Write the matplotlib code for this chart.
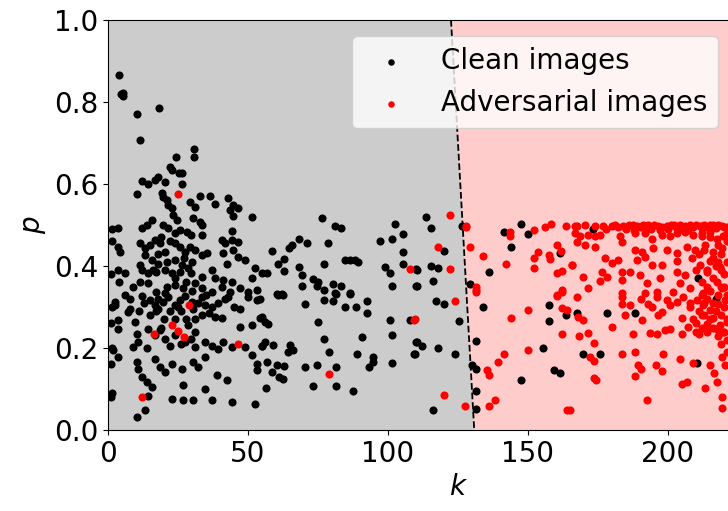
import numpy as np
import matplotlib.pyplot as plt

# (k, p) values
clean_pts = [
    (4.0, .867), (4.5, .82), (5.5, .815), (5.3, .823), (10.2, .771), (18.2, .785), (11.5, .707),
    (30.8, .685), (24.2, .667), (30.8, .667),
    (22.1, .641), (22.7, .634), (25.4, .626), (26.5, .626), (18, .618), (16.8, .61), (12.3, .607),
    (14.2, .60), (20.4, .604), (26.5, .60), (10.2, .575), (19.2, .577), (19.8, .569), (21, .561),
    (21.5, .549), (22.7, .541), (32.9, .571), (36.4, .571), (29.3, .555), (31.1, .545), (38.2, .552),
    (43, .565), (44.8, .549), (46.5, .541), (43.6, .537), (44.8, .521), (51.3, .52), (23.3, .524),
    (24.5, .512), (30.5, .516), (32.9, .508), (33.5, .5), (15.6, .512), (13.8, .5), (12.0, .492),
    (3.5, .493), (19.8, .5), (21.5, .492), (23.9, .48), (25.7, .488), (28.1, .484), (29.8, .476),
    (33.5, .476), (44.2, .485), (44.2, .463), (40.6, .463), (41.8, .455), (46.5, .459), (3.7, .447),
    (4.3, .435), (11.4, .455), (13.2, .443), (15, .451), (16.8, .463), (18.6, .455), (20.4, .435),
    (23.9, .455), (25.7, .447), (27.5, .435), (29.3, .447), (31.1, .439), (33.5, .427), (35.2, .431),
    (13.2, .427), (15.6, .415), (17.9, .406), (20.9, .41), (23.9, .415), (26.3, .402), (28.7, .394),
    (41.2, .431), (44.8, .439), (46.5, .423), (48.9, .415), (42.4, .406), (52.5, .394), (3.5, .39),
    (6.1, .382), (4.0, .362), (11.4, .402), (12.0, .39), (14.4, .382), (17.3, .386), (20.4, .39),
    (22.7, .382), (25.7, .386), (29.8, .382), (33.5, .374), (37, .39), (38.2, .37), (41.2, .366),
    (44.2, .362), (9.1, .35), (11.4, .362), (14.4, .358), (17.3, .337), (20.4, .333), (23.9, .354),
    (26.9, .346), (31.1, .358), (33.5, .346), (37, .337), (40.6, .35), (43.6, .337), (47.1, .346),
    (50.1, .337), (53.1, .341), (54.9, .382), (51.3, .37),
    (1.5, .49), (1.5, .46), (1.2, .38), (1.5, .30), (1.2, .26), (1.5, .20), (1.0, .16),
    (12.0, .328), (15.0, .316), (16.8, .304), (17.9, .296), (19.8, .312), (21.5, .324), (23.9, .304),
    (25.7, .316), (27.5, .328), (29.9, .312), (30.5, .296), (33.5, .324), (34.6, .304), (37, .300),
    (39.4, .309), (41.8, .320), (43, .324), (47.1, .296), (50.1, .324), (53.1, .316), (54.3, .272),
    (51.3, .255), (47.1, .251), (40.6, .272), (38.2, .276), (33.5, .280), (2.5, .312), (2.5, .304),
    (7.9, .296), (7.3, .288), (3.7, .268), (3.7, .247), (1.9, .194), (3.7, .178),
    (13, .31), (18, .32), (22, .29), (26, .29), (28, .27), (32, .31), (36, .285), (24, .27),
    (20, .27), (15, .28), (11, .29), (6, .33), (8, .32), (35, .33), (45, .30),
    (19, .47), (22, .46), (27, .42), (30, .41), (18, .43), (16, .39), (24, .37), (28, .36),
    (21, .35), (30, .34), (17, .29), (25, .30), (31, .27), (19, .25), (26, .21), (14, .20),
    (9.6, .263), (10.2, .235), (10.8, .215), (9.1, .202), (14.4, .247), (16.8, .231), (18.6, .243),
    (20.4, .223), (22.1, .206), (23.9, .231), (27.5, .215), (29.8, .223), (31.1, .202), (28.7, .255),
    (31.1, .239), (34.6, .215), (37, .206), (39.4, .198), (41.2, .215), (44.2, .202), (48.9, .202),
    (51.3, .182), (54.9, .206),
    (10.2, .166), (10.8, .150), (12.0, .129), (13.8, .117), (15.6, .105), (16.8, .174), (18.6, .154),
    (20.4, .141), (22.7, .162), (26.3, .150), (26.9, .109), (30.5, .166), (32.3, .154), (34.6, .178),
    (34.6, .101), (38.8, .133), (42.4, .121), (53.1, .162), (53.1, .146), (22.7, .076), (26.9, .072),
    (30.5, .072), (37.0, .072), (44.2, .068), (52.5, .064), (13.2, .048), (10.2, .032), (14.4, .084),
    (1.1, .08), (1.4, .09),
    (76.3, .516), (81.1, .498), (83.1, .492), (102.5, .502), (105.2, .479), (97.2, .461), (101.3, .466),
    (105.2, .433), (105.2, .406), (110, .392), (98.9, .398), (100.7, .382), (101.3, .351), (110, .351),
    (68.3, .466), (71.2, .455), (78.5, .455), (64.8, .445), (65.6, .45), (58.5, .436), (62.9, .418),
    (60.8, .406), (62.9, .388), (56.9, .384), (68.3, .398), (69.2, .378), (77.2, .406), (84.7, .414),
    (86.4, .414), (88.2, .414), (89.4, .41), (73.1, .368), (75.1, .362), (74.5, .352), (77.2, .341),
    (69.2, .352), (80.5, .355), (83.1, .351), (81.1, .333), (86.4, .333), (60.3, .331), (62, .331),
    (60.8, .329), (62.6, .329), (54.3, .32), (70.4, .308), (77.2, .316), (80.5, .314), (81.4, .332),
    (84.7, .3), (88.6, .3), (92.6, .314), (92.6, .286), (86.4, .332), (100.7, .268), (101.3, .231),
    (107.9, .268), (54.9, .275), (56.1, .263), (57.3, .259), (75.1, .263), (77.2, .223), (90.6, .227),
    (110, .215), (109.3, .186), (56.1, .215), (59.1, .208), (54.9, .206), (65, .208), (64.4, .19),
    (66.2, .194), (79.1, .19), (89.1, .186), (94.8, .178), (94.5, .167), (93.3, .154), (101.3, .163),
    (56.7, .167), (60.2, .159), (62.9, .156), (58.5, .141), (61.2, .129), (62.6, .124), (70.4, .154),
    (74.5, .159), (81.4, .154), (73.1, .107), (81.4, .107), (87.4, .094), (56.4, .102),
    (113.4, .52), (115.3, .492), (126.6, .498), (120.1, .437), (110.2, .39), (115.3, .4), (117.9, .396),
    (116.1, .364), (110.2, .351), (136, .386), (129.2, .355), (141.5, .482), (147.5, .502), (150.1, .477),
    (144.1, .447), (161.4, .431),
    (117.3, .314), (120.1, .308), (125.3, .267), (110.2, .215), (112, .205), (109.6, .186), (117.9, .2),
    (124.1, .186), (130.1, .159), (131.3, .15), (131.6, .216), (134, .3), (157.5, .304), (157.5, .267),
    (163.4, .281), (155.4, .2), (159.4, .146), (161.4, .14), (147.5, .121), (116.1, .048), (131.3, .094),
    (131.6, .052),
    (167.6, .286), (178.3, .286), (188.2, .286), (169.5, .186), (175.7, .186), (210.5, .163),
    (217.1, .319), (173.3, .49), (210.8, .37),
]

adv_pts = [
    (24.9, .575), (29.1, .305), (22.7, .255), (24.9, .241), (27, .227), (16.3, .233), (46.3, .210),
    (12.3, .08), (107.9, .392), (109.3, .268), (79.1, .136),
    (122.1, .525), (127.7, .498), (128, .495), (117.9, .447), (122.1, .392), (129.2, .447), (134, .424),
    (142, .405), (131.4, .349), (131.4, .341), (143.5, .484), (143.5, .473), (152.2, .488), (156, .496),
    (158.2, .502), (163.4, .498), (166.7, .498), (160.2, .451), (161.7, .437), (153.6, .433), (152.2, .42),
    (157.5, .428), (157.8, .418), (152.2, .396), (160.2, .382), (162.2, .388), (165.6, .402), (160.2, .33),
    (162, .342),
    (124.1, .314), (109.6, .27), (131.3, .337), (144.1, .273), (150.1, .292), (160.2, .327), (162, .297),
    (163.8, .292), (162.2, .337), (162, .233), (150.1, .194), (141.5, .186), (139.4, .167), (135.2, .146),
    (136, .135), (120.1, .086), (127.5, .058), (138.2, .072), (136, .058), (164.1, .048),
    (167.4, .497), (170.4, .499), (176.9, .497), (179.9, .498), (184, .497), (187.6, .499), (190, .496),
    (193, .5), (196.5, .498), (199.5, .497), (204.3, .499), (207.9, .5), (211.4, .497), (215, .499),
    (219.2, .498), (221, .496), (182, .495), (186, .5), (189, .498), (192, .495), (195, .5), (198, .494),
    (201, .5), (203, .495), (206, .497), (209, .494), (210, .5), (212, .493), (213, .5), (214, .495),
    (216, .5), (217, .493), (218, .5), (220, .494), (174, .498), (178, .49), (181, .5), (185, .49),
    (188, .488), (191, .5), (194, .49), (197, .488), (200, .491), (202, .5), (205, .49), (207, .488),
    (166.8, .480), (168.6, .472), (167.4, .459), (171.5, .476), (173.9, .472), (175.7, .476), (182.9, .472),
    (183.5, .459), (188.2, .480), (191.8, .480), (194.2, .467), (197.7, .476), (200.7, .472), (203.1, .480),
    (206.1, .484), (209, .476), (212, .472), (215, .484), (217.4, .467), (219.8, .472),
    (170.4, .451), (173.9, .447), (188.2, .439), (190.6, .435), (194.8, .443), (199.5, .439), (203.1, .431),
    (206.7, .447), (209.6, .439), (213.2, .451), (216.2, .435), (219.2, .443),
    (165.6, .402), (177.5, .419), (179.9, .407), (182.3, .415), (188.8, .415), (191.8, .423), (194.2, .402),
    (197.7, .402), (203.1, .411), (208.5, .419), (211.4, .402), (215, .411), (218.6, .398),
    (169.8, .374), (176.3, .386), (175.7, .364), (178.1, .374), (183.5, .386), (183.5, .366), (186.4, .386),
    (190, .378), (192.4, .358), (197.1, .370), (203.1, .386), (206.1, .378), (204.3, .358), (213.8, .386),
    (217.4, .362), (171.5, .346), (183.5, .333), (191.8, .333), (196, .337), (201.9, .337), (207.9, .346),
    (212.6, .333), (219.2, .346),
    (167.4, .324), (183.5, .324), (183.5, .308), (186.4, .304), (190.2, .319), (193, .308), (194.2, .300),
    (196, .324), (199.5, .316), (200.7, .304), (203.1, .312), (205.5, .324), (207.9, .300), (210.2, .316),
    (212.6, .304), (215, .292), (218, .308), (220.4, .316), (168, .276), (169.8, .268), (184.6, .281),
    (190.6, .268), (196.5, .280), (197.7, .288), (204.9, .272), (207.3, .251), (212, .280), (213.8, .259),
    (216.2, .272), (218.6, .255), (221, .263), (179.9, .251), (187.6, .233), (193.6, .237), (196, .233),
    (198.9, .243), (204.9, .235), (200.7, .247), (213.8, .243), (217.4, .247), (219.8, .239), (168.3, .229),
    (171.5, .237), (173.6, .213), (183.5, .186), (188.2, .190), (198.3, .186), (204.3, .172), (209, .163),
    (215, .159), (219.2, .178), (220.4, .158), (172.1, .178), (173.6, .168), (189.4, .159), (190.2, .148),
    (195.7, .159), (197.7, .145), (188.2, .132), (173.6, .127), (174.3, .121), (204.9, .113), (206.9, .117),
    (213.2, .102), (216.4, .138), (217.4, .117), (219.2, .081), (219.2, .054), (192.4, .072), (165, .048),
    (212, .33), (214, .32), (216, .31), (218, .33), (220, .30), (211, .29), (213, .28), (215, .27),
    (217, .29), (219, .28), (221, .27), (210, .26), (212, .25), (214, .24), (216, .25), (218, .23),
    (220, .24), (221, .22), (211, .235), (219, .21), (221, .19), (213, .31), (215, .34), (219, .35),
    (221, .33), (208, .31), (209, .27), (210, .24),
    (212, .36), (214, .39), (216, .42), (218, .45), (220, .38), (221, .41), (213, .44), (215, .47),
    (217, .40), (219, .43), (221, .46), (211, .43), (210, .39), (212, .48), (214, .35), (216, .37),
    (218, .41), (220, .35), (221, .48), (219, .39),
]

# decision boundary: k at p = 1 and at p = 0
boundary_k = [122.5, 130.8]
boundary_p = [1.0, 0.0]
k_max = 250

clean = np.array(clean_pts)
adv = np.array(adv_pts)

fig = plt.figure(figsize=(7.28, 5.11), dpi=100)
ax = fig.add_axes([108 / 728, 81 / 511, 700 / 728, 410 / 511])

ax.fill([0, boundary_k[1], boundary_k[0], 0], [0, 0, 1, 1], color="#cccccc", zorder=0)
ax.fill([boundary_k[1], k_max, k_max, boundary_k[0]], [0, 0, 1, 1], color="#ffcccc", zorder=0)
ax.plot(boundary_k, boundary_p, "k--", lw=1.3, zorder=1)

ax.scatter(clean[:, 0], clean[:, 1], s=34, c="black", linewidths=0, label="Clean images", zorder=2)
ax.scatter(adv[:, 0], adv[:, 1], s=34, c="red", linewidths=0, label="Adversarial images", zorder=3)

ax.set_xlim(0, k_max)
ax.set_ylim(0, 1)
ax.set_xticks([0, 50, 100, 150, 200])
ax.set_yticks(np.arange(0, 1.01, 0.2))
ax.tick_params(labelsize=20)
ax.set_xlabel("$k$", fontsize=20)
ax.set_ylabel("$p$", fontsize=20)

ax.legend(loc="upper left", bbox_to_anchor=(352 / 728, 1 - 36 / 511),
          bbox_transform=fig.transFigure, borderaxespad=0, fontsize=20,
          markerscale=0.8)

fig.savefig("out.png", dpi=100)
